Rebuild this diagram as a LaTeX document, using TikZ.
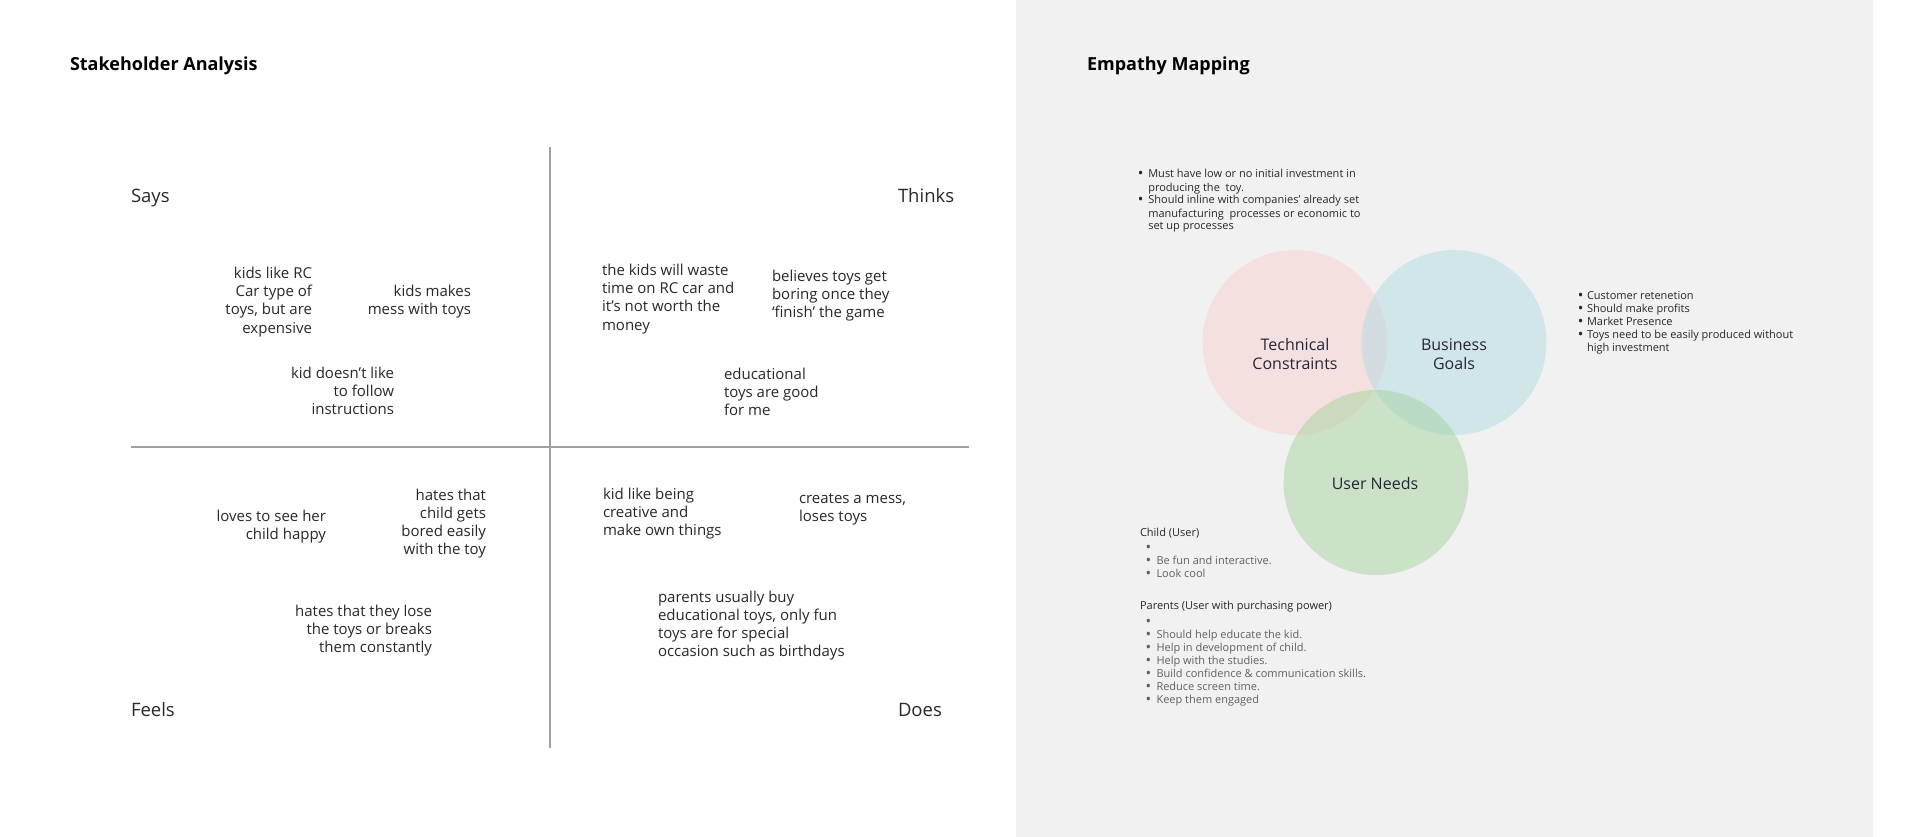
\documentclass[tikz,border=0pt]{standalone}
\usepackage{fontspec}
\setmainfont{Open Sans}
\definecolor{panelgray}{RGB}{241,241,241}
\definecolor{axisgray}{RGB}{160,160,160}
\definecolor{vpink}{RGB}{250,208,208}
\definecolor{vblue}{RGB}{178,220,226}
\definecolor{vgreen}{RGB}{166,212,160}
\definecolor{inkdark}{RGB}{40,40,40}
\definecolor{inknavy}{RGB}{36,38,56}
% bullet marker (a touch larger than the list text) and the matching hanging indent
\newcommand{\bitem}[1][10.5pt]{\makebox[#1][l]{\raisebox{-0.8pt}{\fontsize{15}{13}\selectfont •}}}
\newcommand{\bgap}[1][10.5pt]{\hspace*{#1}}
\begin{document}
% multi-line nodes are placed by the baseline of their last line
\begin{tikzpicture}[x=1pt,y=-1pt,
  every node/.style={inner sep=0pt, outer sep=0pt},
  heading/.style={font=\fontsize{18}{22}\selectfont\bfseries, text=black, anchor=base west},
  quadlabel/.style={font=\fontsize{18.5}{22}\selectfont, text=inkdark, anchor=base west},
  note/.style={font=\fontsize{15}{18.2}\selectfont, text=inkdark},
  noteR/.style={note, align=right, anchor=base east},
  noteL/.style={note, align=left, anchor=base west},
  axis/.style={draw=axisgray, line width=1.3pt},
  venn/.style={circle, minimum size=185pt, fill opacity=0.5, draw=none},
  vennlabel/.style={font=\fontsize{16}{19}\selectfont, text=inknavy, align=center, anchor=base},
  small/.style={font=\fontsize{11}{13}\selectfont, text=inkdark, align=left, anchor=base west},
  smallgray/.style={small, text=black!62},
]
\useasboundingbox (0,0) rectangle (1920,837);
\fill[white] (0,0) rectangle (1920,837);
\fill[panelgray] (1016,0) rectangle (1873,837);

% ---------- Stakeholder analysis ----------
\node[heading] (sh) at (70,71) {Stakeholder Analysis};

\coordinate (vtop) at (550,147);
\coordinate (vbot) at (550,748);
\coordinate (hl) at (131,447);
\coordinate (hr) at (969,447);
\draw[axis] (vtop) -- (vbot);
\draw[axis] (hl) -- (hr);

\node[quadlabel] (says) at (131,202.5) {Says};
\node[quadlabel] (thinks) at (898,202.5) {Thinks};
\node[quadlabel] (feels) at (131,716.5) {Feels};
\node[quadlabel] (does) at (898,716.5) {Does};

% Says
\node[noteR] (s1) at (312,333.1) {kids like RC\\Car type of\\toys, but are\\expensive};
\node[noteR] (s2) at (471,314.7) {kids makes\\mess with toys};
\node[noteR] (s3) at (394,414.9) {kid doesn’t like\\to follow\\instructions};

% Thinks
\node[noteL] (t1) at (602,330.1) {the kids will waste\\time on RC car and\\it’s not worth the\\money};
\node[noteL] (t2) at (772,317.4) {believes toys get\\boring once they\\‘finish’ the game};
\node[noteL] (t3) at (724,415.4) {educational\\toys are good\\for me};

% Feels
\node[noteR] (f1) at (326,539.2) {loves to see her\\child happy};
\node[noteR] (f2) at (486,554.6) {hates that\\child gets\\bored easily\\with the toy};
\node[noteR] (f3) at (432,652.4) {hates that they lose\\the toys or breaks\\them constantly};

% Does
\node[noteL] (d1) at (603,535.9) {kid like being\\creative and\\make own things};
\node[noteL] (d2) at (799,521.2) {creates a mess,\\loses toys};
\node[noteL] (d3) at (658,656.6) {parents usually buy\\educational toys, only fun\\toys are for special\\occasion such as birthdays};

% ---------- Empathy mapping ----------
\node[heading] (em) at (1087,71) {Empathy Mapping};

\node[venn, fill=vpink] (tech) at (1295,342.5) {};
\node[venn, fill=vblue] (biz) at (1454,342.5) {};
\node[venn, fill=vgreen] (user) at (1376,482.5) {};

\node[vennlabel] (techl) at (1295,369) {Technical\\Constraints};
\node[vennlabel] (bizl) at (1454,369) {Business\\Goals};
\node[vennlabel] (userl) at (1375,489.7) {User Needs};

\node[small] (tclist) at (1137.8,230) {\bitem Must have low or no initial investment in\\
  \bgap producing the \ toy.\\
  \bitem Should inline with companies’ already set\\
  \bgap manufacturing \ processes or economic to\\
  \bgap set up processes};

\node[small] (bglist) at (1577.8,351.5) {\bitem[9.2pt]Customer retenetion\\
  \bitem[9.2pt]Should make profits\\
  \bitem[9.2pt]Market Presence\\
  \bitem[9.2pt]Toys need to be easily produced without\\
  \bgap[9.2pt]high investment};

\node[small] (childh) at (1140,536.2) {Child (User)};
\node[smallgray] (childl) at (1145.5,577.8) {\bitem[11pt]\\
  \bitem[11pt]Be fun and interactive.\\
  \bitem[11pt]Look cool};

\node[small] (parh) at (1140,609.5) {Parents (User with purchasing power)};
\node[smallgray] (parl) at (1145.5,703.2) {\bitem[11pt]\\
  \bitem[11pt]Should help educate the kid.\\
  \bitem[11pt]Help in development of child.\\
  \bitem[11pt]Help with the studies.\\
  \bitem[11pt]Build confidence \& communication skills.\\
  \bitem[11pt]Reduce screen time.\\
  \bitem[11pt]Keep them engaged};
\end{tikzpicture}
\end{document}
